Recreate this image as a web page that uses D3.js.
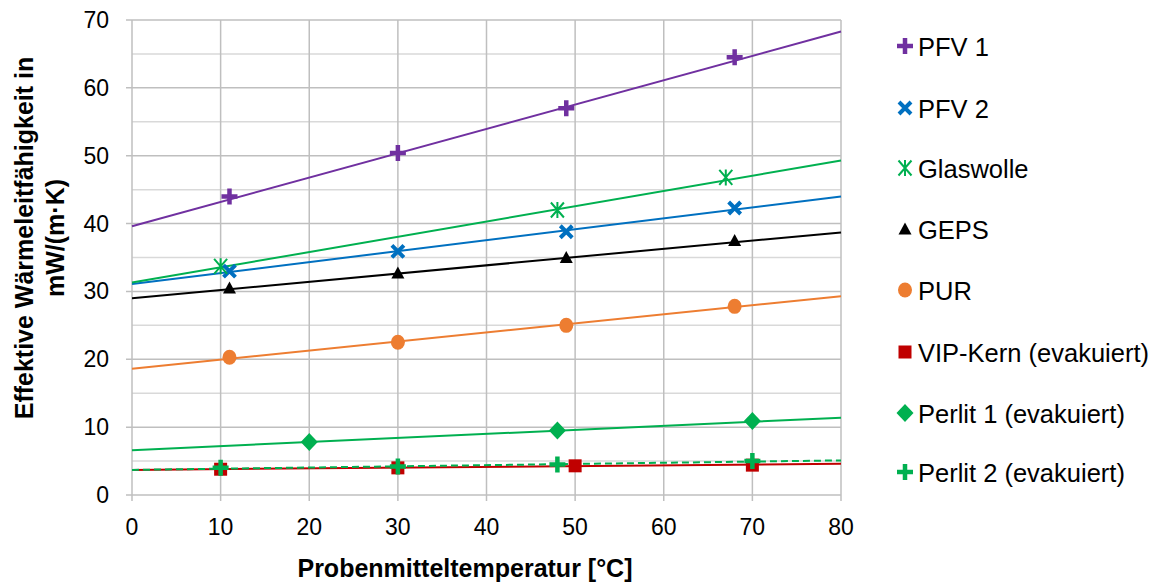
<!DOCTYPE html>
<html>
<head>
<meta charset="utf-8">
<script src="https://cdnjs.cloudflare.com/ajax/libs/d3/7.8.5/d3.min.js"></script>
<style>
body { margin: 0; background: #fff; }
text { font-family: "Liberation Sans", Arial, sans-serif; }
</style>
</head>
<body>
<svg id="chart" width="1154" height="582"></svg>
<script>
// series names, colours, markers
var names = ["PFV 1", "PFV 2", "Glaswolle", "GEPS", "PUR", "VIP-Kern (evakuiert)", "Perlit 1 (evakuiert)", "Perlit 2 (evakuiert)"];
var colors = ["#7030A0", "#0070C0", "#00B050", "#000000", "#ED7D31", "#C00000", "#00B050", "#00B050"];
var markers = ["plus", "cross", "star", "triangle", "circle", "square", "diamond", "plus"];

// measured points (temperature °C, conductivity mW/(m·K))
var xs = [
  [11, 30, 49, 68],
  [11, 30, 49, 68],
  [10, 48, 67],
  [11, 30, 49, 68],
  [11, 30, 49, 68],
  [10, 30, 50, 70],
  [20, 48, 70],
  [10, 30, 48, 70]
];
var ys = [
  [44.0, 50.4, 57.0, 64.5],
  [33.0, 35.9, 38.8, 42.3],
  [33.7, 42.0, 46.8],
  [30.5, 32.7, 35.0, 37.5],
  [20.3, 22.5, 25.0, 27.8],
  [3.8, 4.0, 4.3, 4.4],
  [7.8, 9.5, 10.9],
  [4.0, 4.2, 4.5, 5.0]
];
// trend lines, value at 0 °C and at 80 °C
var trendX = [0, 80];
var trendY = [
  [39.6, 68.3],
  [31.1, 44.0],
  [31.3, 49.3],
  [29.0, 38.7],
  [18.6, 29.3],
  [3.7, 4.6],
  [6.6, 11.4],
  [3.7, 5.1]
];
var dashed = [false, false, false, false, false, false, false, true];

var xTicks = [0, 10, 20, 30, 40, 50, 60, 70, 80];
var yTicks = [0, 10, 20, 30, 40, 50, 60, 70];
var yMinor = [5, 15, 25, 35, 45, 55, 65];

var svg = d3.select("#chart");
var pLeft = 132, pRight = 841, pTop = 20, pBottom = 495;

var x = d3.scaleLinear().domain([0, 80]).range([pLeft, pRight]);
var y = d3.scaleLinear().domain([0, 70]).range([pBottom, pTop]);

// minor horizontal grid
svg.append("g").selectAll("line").data(yMinor).enter().append("line")
  .attr("x1", pLeft).attr("x2", pRight)
  .attr("y1", function(d) { return y(d); }).attr("y2", function(d) { return y(d); })
  .attr("stroke", "#D9D9D9").attr("stroke-width", 1.5);

// major grid
svg.append("g").selectAll("line").data(yTicks).enter().append("line")
  .attr("x1", pLeft - 6).attr("x2", pRight)
  .attr("y1", function(d) { return y(d); }).attr("y2", function(d) { return y(d); })
  .attr("stroke", "#BFBFBF").attr("stroke-width", 1.5);
svg.append("g").selectAll("line").data(xTicks).enter().append("line")
  .attr("x1", function(d) { return x(d); }).attr("x2", function(d) { return x(d); })
  .attr("y1", pTop).attr("y2", pBottom + 6)
  .attr("stroke", "#BFBFBF").attr("stroke-width", 1.5);

// tick labels
svg.append("g").selectAll("text").data(yTicks).enter().append("text")
  .attr("x", pLeft - 23).attr("y", function(d) { return y(d) + 8; })
  .attr("text-anchor", "end").attr("font-size", 23).attr("fill", "#000")
  .text(function(d) { return d; });
svg.append("g").selectAll("text").data(xTicks).enter().append("text")
  .attr("x", function(d) { return x(d); }).attr("y", pBottom + 40)
  .attr("text-anchor", "middle").attr("font-size", 23).attr("fill", "#000")
  .text(function(d) { return d; });

// trend lines
var line = d3.line()
  .x(function(d) { return x(d[0]); })
  .y(function(d) { return y(d[1]); });

trendY.forEach(function(t, i) {
  svg.append("path")
    .datum(trendX.map(function(v, j) { return [v, t[j]]; }))
    .attr("d", line)
    .attr("fill", "none")
    .attr("stroke", colors[i])
    .attr("stroke-width", 2)
    .attr("stroke-dasharray", dashed[i] ? "7,4" : null);
});

function drawMarker(g, type, color, cx, cy) {
  if (type === "plus") {
    g.append("path").attr("d", "M" + (cx - 8) + "," + cy + "H" + (cx + 8) + "M" + cx + "," + (cy - 8) + "V" + (cy + 8))
      .attr("stroke", color).attr("stroke-width", 4.5).attr("fill", "none");
  } else if (type === "cross") {
    g.append("path").attr("d", "M" + (cx - 6) + "," + (cy - 6) + "L" + (cx + 6) + "," + (cy + 6) + "M" + (cx + 6) + "," + (cy - 6) + "L" + (cx - 6) + "," + (cy + 6))
      .attr("stroke", color).attr("stroke-width", 4).attr("fill", "none");
  } else if (type === "star") {
    g.append("path").attr("d", "M" + (cx - 6.5) + "," + (cy - 7.5) + "L" + (cx + 6.5) + "," + (cy + 7.5) + "M" + (cx + 6.5) + "," + (cy - 7.5) + "L" + (cx - 6.5) + "," + (cy + 7.5) + "M" + cx + "," + (cy - 8) + "V" + (cy + 8))
      .attr("stroke", color).attr("stroke-width", 2).attr("fill", "none");
  } else if (type === "triangle") {
    g.append("path").attr("d", "M" + cx + "," + (cy - 6.5) + "L" + (cx + 6.5) + "," + (cy + 5.5) + "L" + (cx - 6.5) + "," + (cy + 5.5) + "Z")
      .attr("fill", color);
  } else if (type === "circle") {
    g.append("ellipse").attr("cx", cx).attr("cy", cy).attr("rx", 7).attr("ry", 7.5).attr("fill", color);
  } else if (type === "square") {
    g.append("rect").attr("x", cx - 6.5).attr("y", cy - 6.5).attr("width", 13).attr("height", 13).attr("fill", color);
  } else if (type === "diamond") {
    g.append("path").attr("d", "M" + cx + "," + (cy - 9) + "L" + (cx + 8.5) + "," + cy + "L" + cx + "," + (cy + 9) + "L" + (cx - 8.5) + "," + cy + "Z")
      .attr("fill", color);
  }
}

// markers in series order, later series on top
var mg = svg.append("g");
names.forEach(function(n, i) {
  xs[i].forEach(function(v, j) {
    drawMarker(mg, markers[i], colors[i], x(v), y(ys[i][j]));
  });
});

// legend
var legendY = [46, 108, 168, 229, 290, 352, 413, 472];
var lg = svg.append("g");
names.forEach(function(n, i) {
  drawMarker(lg, markers[i], colors[i], 905, legendY[i]);
  lg.append("text").attr("x", 918).attr("y", legendY[i] + 10)
    .attr("font-size", 25.5).attr("fill", "#000").text(n);
});

// axis titles
svg.append("text")
  .attr("x", 465).attr("y", 577)
  .attr("text-anchor", "middle").attr("font-size", 25).attr("font-weight", "bold")
  .text("Probenmitteltemperatur [°C]");

var yt = svg.append("text")
  .attr("transform", "translate(33,238) rotate(-90)")
  .attr("text-anchor", "middle").attr("font-size", 25).attr("font-weight", "bold");
yt.append("tspan").attr("x", 0).attr("dy", 0).text("Effektive Wärmeleitfähigkeit in");
yt.append("tspan").attr("x", 0).attr("dy", 31).text("mW/(m·K)");
</script>
</body>
</html>
